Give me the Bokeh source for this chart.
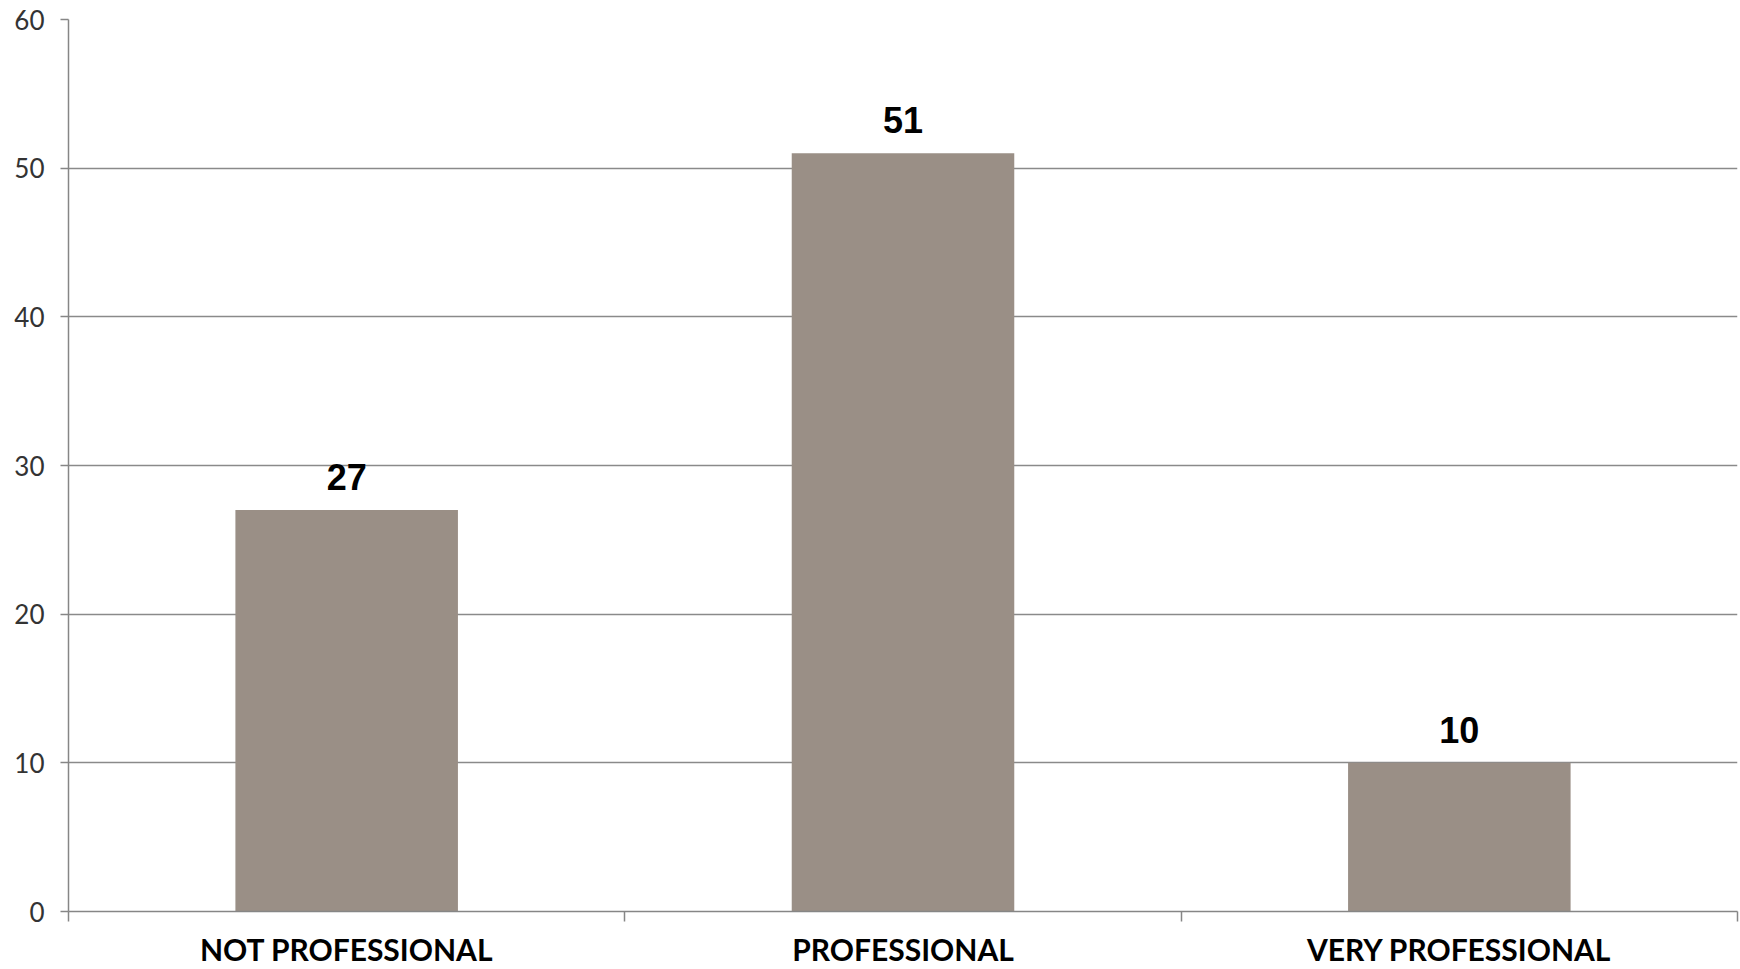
from bokeh.plotting import figure
from bokeh.models import Range1d, FixedTicker, LabelSet, ColumnDataSource
from bokeh.core.properties import value
from bokeh.embed import file_html
from bokeh.resources import INLINE

categories = ["NOT PROFESSIONAL", "PROFESSIONAL", "VERY PROFESSIONAL"]
values = [27, 51, 10]
y_ticks = [0, 10, 20, 30, 40, 50, 60]

xpos = [i + 0.5 for i in range(len(categories))]
src = ColumnDataSource(dict(x=xpos, top=values, lab=[str(v) for v in values]))

p = figure(width=1740, height=969, output_backend="svg", toolbar_location=None,
           x_range=Range1d(0, len(categories)), y_range=Range1d(0, 60),
           min_border_left=68, min_border_right=3, min_border_top=19, min_border_bottom=57)
p.outline_line_color = None
p.background_fill_color = "white"

p.vbar(x="x", top="top", bottom=0, width=0.4, source=src,
       fill_color="#9a8f86", line_color=None)

labels = LabelSet(x="x", y="top", text="lab", source=src, y_offset=20,
                  text_align="center", text_baseline="alphabetic",
                  text_font=value("Liberation Sans"), text_font_style="bold",
                  text_font_size="36px", text_color="#000000")
p.add_layout(labels)

# grid
p.xgrid.grid_line_color = None
p.ygrid.grid_line_color = "#8a8a8a"
p.ygrid.grid_line_width = 1.5
p.ygrid.ticker = FixedTicker(ticks=y_ticks)

# x axis
xa = p.xaxis[0]
xa.ticker = FixedTicker(ticks=xpos, minor_ticks=list(range(len(categories) + 1)))
xa.major_label_overrides = {x: c for x, c in zip(xpos, categories)}
xa.major_tick_out = 0
xa.major_tick_in = 0
xa.minor_tick_out = 10
xa.minor_tick_in = 0
xa.minor_tick_line_color = "#868686"
xa.minor_tick_line_width = 1.5
xa.axis_line_color = "#868686"
xa.axis_line_width = 1.5
xa.major_label_standoff = 9
xa.major_label_text_font = "Lato"
xa.major_label_text_font_style = "bold"
xa.major_label_text_font_size = "30px"
xa.major_label_text_color = "#000000"

# y axis
ya = p.yaxis[0]
ya.ticker = FixedTicker(ticks=y_ticks)
ya.major_tick_out = 8
ya.major_tick_in = 0
ya.minor_tick_out = 0
ya.minor_tick_in = 0
ya.major_tick_line_color = "#868686"
ya.major_tick_line_width = 1.5
ya.axis_line_color = "#868686"
ya.axis_line_width = 1.5
ya.major_label_standoff = 16
ya.major_label_text_font = "Lato"
ya.major_label_text_font_size = "26px"
ya.major_label_text_color = "#333333"

open("out.html", "w").write(file_html(p, INLINE))
